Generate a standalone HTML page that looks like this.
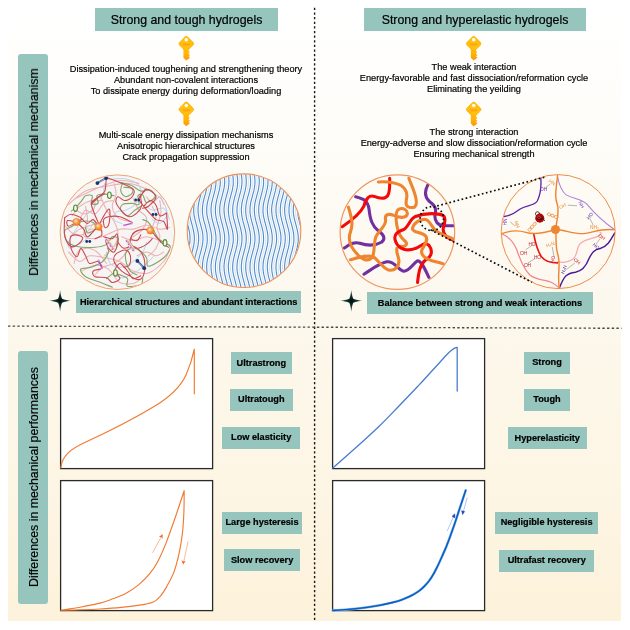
<!DOCTYPE html>
<html>
<head>
<meta charset="utf-8">
<style>
html,body{margin:0;padding:0;background:#fff;}
body{width:630px;height:630px;position:relative;overflow:hidden;font-family:"Liberation Sans",sans-serif;color:#000;-webkit-text-stroke:0.2px #000;}
#bg{position:absolute;left:8px;top:8px;width:613px;height:613px;background:linear-gradient(to bottom,#ffffff 0%,#fefcf7 24%,#fdf8ee 48%,#fdf6e5 76%,#fdf2db 100%);}
.box{position:absolute;background:#96c5bd;}
.hdr{font-size:12.35px;line-height:25px;text-align:center;white-space:nowrap;}
.vlab{position:absolute;background:#96c5bd;border-radius:3px;}
.vlab span{position:absolute;left:calc(50% + 0.5px);top:50%;transform:translate(-50%,-50%) rotate(-90deg);white-space:nowrap;font-size:12.35px;will-change:transform;}
.txt,.tag,.hdr{will-change:transform;}
.txt{position:absolute;font-size:9.2px;line-height:10.75px;text-align:center;white-space:nowrap;transform:translateX(-50%);}
.tag{position:absolute;background:#96c5bd;font-weight:bold;font-size:9.2px;text-align:center;white-space:nowrap;line-height:22px;height:22px;}
svg{position:absolute;left:0;top:0;}
</style>
</head>
<body>
<div id="bg"></div>

<!-- headers -->
<div class="box hdr" style="left:94.9px;top:8px;width:183px;height:23px;">Strong and tough hydrogels</div>
<div class="box hdr" style="left:363.5px;top:8px;width:222px;height:23.2px;">Strong and hyperelastic hydrogels</div>

<!-- vertical labels -->
<div class="vlab" style="left:18.3px;top:54px;width:30px;height:236.8px;"><span>Differences in mechanical mechanism</span></div>
<div class="vlab" style="left:18.1px;top:351px;width:30.4px;height:252.7px;"><span>Differences in mechanical performances</span></div>

<!-- text blocks -->
<div class="txt" style="left:186.3px;top:63.8px;">Dissipation-induced toughening and strengthening theory<br>Abundant non-covalent interactions<br>To dissipate energy during deformation/loading</div>
<div class="txt" style="left:186.2px;top:130px;">Multi-scale energy dissipation mechanisms<br>Anisotropic hierarchical structures<br>Crack propagation suppression</div>
<div class="txt" style="left:473.5px;top:61.6px;">The weak interaction<br>Energy-favorable and fast dissociation/reformation cycle<br>Eliminating the yeilding</div>
<div class="txt" style="left:473.8px;top:127px;">The strong interaction<br>Energy-adverse and slow dissociation/reformation cycle<br>Ensuring mechanical strength</div>

<!-- bottom labels of top half -->
<div class="tag" style="left:75.7px;top:291px;width:225.3px;height:22.2px;line-height:22.0px;">Hierarchical structures and abundant interactions</div>
<div class="tag" style="left:366.9px;top:291.6px;width:225.8px;height:22.3px;line-height:22.1px;">Balance between strong and weak interactions</div>

<!-- tags -->
<div class="tag" style="left:231.1px;top:351.6px;width:60.7px;height:22.2px;line-height:22.0px;">Ultrastrong</div>
<div class="tag" style="left:230.0px;top:388.6px;width:62.7px;height:22.2px;line-height:21.0px;">Ultratough</div>
<div class="tag" style="left:222.3px;top:426.7px;width:78.3px;height:22.2px;line-height:21.0px;">Low elasticity</div>
<div class="tag" style="left:222.2px;top:511.8px;width:80.0px;height:22.1px;line-height:21.9px;">Large hysteresis</div>
<div class="tag" style="left:224.0px;top:549.4px;width:76.2px;height:22.4px;line-height:22.2px;">Slow recovery</div>

<div class="tag" style="left:523.8px;top:351.8px;width:46.0px;height:22.0px;line-height:21.8px;">Strong</div>
<div class="tag" style="left:523.8px;top:388.5px;width:46.0px;height:22.2px;line-height:21.0px;">Tough</div>
<div class="tag" style="left:507.7px;top:426.6px;width:78.5px;height:22.4px;line-height:22.2px;">Hyperelasticity</div>
<div class="tag" style="left:495.3px;top:511.9px;width:103.2px;height:22.2px;line-height:21.0px;">Negligible hysteresis</div>
<div class="tag" style="left:499.3px;top:549.6px;width:95.4px;height:22.2px;line-height:21.0px;">Ultrafast recovery</div>

<svg id="main" width="630" height="630" viewBox="0 0 630 630">
  <!-- dividers -->
  <line x1="314.6" y1="7.8" x2="314.6" y2="621.5" stroke="#1a1a1a" stroke-width="1.4" stroke-dasharray="2.3 2.32"/>
  <line x1="8" y1="326.1" x2="621.6" y2="328.3" stroke="#4a4a4a" stroke-width="1.35" stroke-dasharray="2.4 2.28"/>

  <!-- chart frames -->
  <rect x="60.6" y="338.6" width="152" height="130" fill="#fff" stroke="#2a2a2a" stroke-width="1.3"/>
  <rect x="60.6" y="480.6" width="152" height="130" fill="#fff" stroke="#2a2a2a" stroke-width="1.3"/>
  <rect x="332.6" y="338.6" width="152" height="130" fill="#fff" stroke="#2a2a2a" stroke-width="1.3"/>
  <rect x="332.6" y="480.6" width="152" height="130" fill="#fff" stroke="#2a2a2a" stroke-width="1.3"/>


  <defs>
    <linearGradient id="kg" x1="0" y1="0" x2="0" y2="1">
      <stop offset="0" stop-color="#ffbe08"/><stop offset="0.5" stop-color="#ffc40e"/><stop offset="1" stop-color="#ffbc08"/>
    </linearGradient>
    <linearGradient id="kg2" x1="0" y1="0" x2="0" y2="1">
      <stop offset="0" stop-color="#ffc30a"/><stop offset="0.45" stop-color="#ffb605"/><stop offset="1" stop-color="#ff9410"/>
    </linearGradient>
    <radialGradient id="sg" cx="0" cy="0" r="10.9" gradientUnits="userSpaceOnUse"><stop offset="0" stop-color="#020a0a"/><stop offset="0.35" stop-color="#0c2e2c"/><stop offset="1" stop-color="#1f5a54"/></radialGradient>
    <g id="key">
      <path d="M-2.9,11 L2.4,11 L2.4,15.3 l1,0.4 l0,0.9 l-1,0.5 l0,1.0 l1,0.4 l0,0.9 l-1,0.5 l0,0.7 l1,0.4 l0,0.9 L-0.1,24.6 L-2.9,21.8 Z" fill="url(#kg2)"/>
      <rect x="-5.75" y="-5.75" width="11.5" height="11.5" rx="2.1" transform="translate(0,7.7) rotate(45)" fill="url(#kg)" stroke="#ffac10" stroke-width="0.7"/>
      <rect x="-3.5" y="7.4" width="7" height="2.2" fill="#ffa31a"/>
      <circle cx="0" cy="3.8" r="1.75" fill="#fffdf8"/>
    </g>
    <path id="star" d="M0,-10.9 C0.3,-8 0.8,-4.5 2.0,-2.0 C4.5,-0.8 8,-0.3 10.9,0 C8,0.3 4.5,0.8 2.0,2.0 C0.8,4.5 0.3,8 0,10.9 C-0.3,8 -0.8,4.5 -2.0,2.0 C-4.5,0.8 -8,0.3 -10.9,0 C-8,-0.3 -4.5,-0.8 -2.0,-2.0 C-0.8,-4.5 -0.3,-8 0,-10.9Z" fill="url(#sg)"/>
  </defs>
  <use href="#key" x="186.3" y="36"/>
  <use href="#key" x="186.3" y="101.7"/>
  <use href="#key" x="473.7" y="36"/>
  <use href="#key" x="473.7" y="101.8"/>
  <use href="#star" x="60.1" y="300.8"/>
  <use href="#star" x="351.3" y="300.8"/>

  <!-- chart curves -->
  <g fill="none" stroke-linecap="round" stroke-linejoin="round">
    <path d="M60.8,467.9 C62,456 70,449 86.4,441.7 C110,431 135,418 154.5,406.3 C168,398 180,388 186,374.9 C190,366 192.5,358 194.3,349.2 L194.3,393.8" stroke="#f07a30" stroke-width="1.15"/>
    <path d="M60.8,610.1 C64.0,609.6 73.5,608.4 80.0,607.2 C86.5,606.0 94.5,604.5 100.0,603.1 C105.5,601.7 108.5,600.4 112.8,598.8 C117.1,597.2 121.4,595.8 125.7,593.5 C130.0,591.2 134.6,588.1 138.5,584.9 C142.4,581.7 146.1,578.1 149.3,574.2 C152.5,570.3 155.0,566.8 157.8,561.4 C160.7,556.0 163.6,549.2 166.4,542.1 C169.2,535.0 171.9,527.1 174.9,518.5 C177.9,509.9 182.6,495.3 184.2,490.7 C184.1,494.3 184.2,505.0 183.9,512.1 C183.6,519.2 183.2,526.7 182.4,533.5 C181.6,540.3 180.6,546.4 179.2,552.8 C177.8,559.2 176.0,566.4 173.9,572.1 C171.8,577.8 168.7,583.0 166.4,587.1 C164.1,591.2 162.2,594.2 160.0,596.7 C157.8,599.2 156.4,600.8 153.5,602.1 C150.6,603.4 148.2,603.7 142.8,604.6 C137.5,605.5 128.5,606.7 121.4,607.4 C114.3,608.1 106.9,608.6 100.0,609.0 C93.1,609.4 86.5,609.6 80.0,609.8 C73.5,610.0 64.0,610.1 60.8,610.2" stroke="#f07a30" stroke-width="1.15"/>
    <path d="M332.8,468.1 C336.7,464.7 348.2,454.6 356.0,447.6 C363.8,440.6 372.2,432.9 379.4,426.0 C386.6,419.1 392.4,412.8 399.0,406.0 C405.6,399.2 413.0,391.4 418.7,385.4 C424.4,379.4 428.2,375.0 433.0,369.8 C437.8,364.6 444.3,357.3 447.5,354.0 C450.7,350.7 450.7,351.0 452.0,350.0 C453.3,349.0 454.4,348.3 455.3,347.9 C456.2,347.5 456.9,347.5 457.2,347.4 L457.2,391.1" stroke="#4a7bd0" stroke-width="1.3"/>
    <path d="M332.8,610.4 C335.7,610.2 344.5,609.7 350.0,609.2 C355.5,608.7 361.0,608.1 366.0,607.5 C371.0,606.9 375.7,606.1 380.0,605.3 C384.3,604.5 388.4,603.5 392.0,602.6 C395.6,601.7 398.4,601.0 401.4,599.9 C404.4,598.8 407.1,597.7 410.0,596.3 C412.9,594.9 416.2,592.9 418.5,591.3 C420.8,589.7 422.2,588.4 424.0,586.6 C425.8,584.8 427.7,582.8 429.3,580.6 C430.9,578.4 432.4,576.0 433.8,573.5 C435.2,571.0 436.4,568.5 437.8,565.7 C439.2,562.9 440.6,559.7 442.0,556.5 C443.4,553.3 444.9,550.0 446.4,546.4 C447.8,542.8 449.3,538.9 450.7,535.0 C452.1,531.1 453.4,527.4 455.0,522.8 C456.6,518.2 458.2,512.9 460.0,507.5 C461.8,502.1 464.8,493.2 465.7,490.3" stroke="#8fbcec" stroke-width="2.5"/>
    <path d="M332.8,610.4 C335.7,610.2 344.5,609.7 350.0,609.2 C355.5,608.7 361.0,608.1 366.0,607.5 C371.0,606.9 375.7,606.1 380.0,605.3 C384.3,604.5 388.4,603.5 392.0,602.6 C395.6,601.7 398.4,601.0 401.4,599.9 C404.4,598.8 407.1,597.7 410.0,596.3 C412.9,594.9 416.2,592.9 418.5,591.3 C420.8,589.7 422.2,588.4 424.0,586.6 C425.8,584.8 427.7,582.8 429.3,580.6 C430.9,578.4 432.4,576.0 433.8,573.5 C435.2,571.0 436.4,568.5 437.8,565.7 C439.2,562.9 440.6,559.7 442.0,556.5 C443.4,553.3 444.9,550.0 446.4,546.4 C447.8,542.8 449.3,538.9 450.7,535.0 C452.1,531.1 453.4,527.4 455.0,522.8 C456.6,518.2 458.2,512.9 460.0,507.5 C461.8,502.1 464.8,493.2 465.7,490.3" stroke="#0a5fc6" stroke-width="1.6"/>
    <!-- arrows -->
    <path d="M152.7,552.5 L161.6,536.2" stroke="#f6b48c" stroke-width="0.9"/>
    <path d="M188,541.8 L183.8,561.5" stroke="#f6b48c" stroke-width="0.9"/>
    <path d="M447.5,530.5 L453.8,516" stroke="#a9bdf0" stroke-width="0.9"/>
    <path d="M467.1,498 L463.3,512" stroke="#a9bdf0" stroke-width="0.9"/>
  </g>
  <path d="M162.7,534.1 L162.5,538.9 L161.2,536.9 L158.9,536.9Z" fill="#ec6a20"/>
  <path d="M183.2,564.6 L181.4,560.2 L183.5,561.4 L185.6,561.1Z" fill="#ec6a20"/>
  <path d="M454.8,513.8 L454.9,517.8 L452,516.4Z" fill="#2540b0" stroke="#2540b0" stroke-width="0.5"/>
  <path d="M462.6,514.5 L461.6,510.8 L464.6,511.5Z" fill="#2540b0" stroke="#2540b0" stroke-width="0.5"/>

  <!-- circles -->
  <circle cx="117.4" cy="232.2" r="57.3" fill="#f7f5f4"/>
  <circle cx="244" cy="230.7" r="56.8" fill="#fdfdfa"/>
  <circle cx="397.4" cy="232.1" r="57.3" fill="none" stroke="#ee9560" stroke-width="1.2"/>
  <circle cx="558.2" cy="231.6" r="57" fill="none" stroke="#ee8c48" stroke-width="1.0"/>

  <!-- circle 3 content -->
  <clipPath id="cl3"><circle cx="397.4" cy="232.1" r="56.8"/></clipPath>
  <g clip-path="url(#cl3)">
  <g transform="translate(335,170) scale(0.20635)" fill="none" stroke-width="15" stroke-linecap="round" stroke-linejoin="round">
    <path d="M100,130 C140,140 160,150 165,190 C170,240 180,270 210,295 C240,315 245,335 225,350 C190,370 150,365 120,355 C90,345 65,365 45,378" stroke="#7030a0"/>
    <path d="M35,275 C80,245 120,215 140,175 C150,140 165,120 190,128 C215,138 240,145 255,125 C268,105 265,70 265,40" stroke="#f20a0a"/>
    <path d="M450,72 C435,100 435,130 455,150 C475,165 495,180 485,215 C480,250 500,270 530,270 C550,270 565,270 578,270" stroke="#7030a0"/>
    <path d="M140,505 C180,480 210,455 250,445 C290,440 300,480 330,490 C360,495 380,450 400,440 C420,440 440,490 455,520" stroke="#7030a0"/>
    <path d="M210,58 C250,55 290,60 320,75 C345,90 355,120 345,150 C340,180 360,185 385,180 C400,170 395,140 385,110 C375,80 365,60 358,40" stroke="#ee8530"/>
    <path d="M75,435 C110,425 150,410 185,420 C210,435 225,470 260,485 C290,490 310,470 310,440 C308,415 295,400 300,380" stroke="#ee8530"/>
    <path d="M65,180 C80,230 90,260 75,300 C60,340 80,380 110,410 C130,435 160,445 180,425 C195,400 185,350 200,320 C215,290 250,270 245,240 C240,215 260,210 285,220 C310,232 345,235 350,215 C355,195 330,180 310,190 C290,200 295,240 300,270 C305,300 320,330 340,345 C355,360 340,375 320,370" stroke="#ee8530"/>
    <path d="M400,545 C405,500 410,460 440,435 C470,420 475,390 455,365 C430,345 420,370 390,380 C350,395 310,385 295,350 C280,315 300,300 330,290 C355,280 360,240 390,225 C430,210 480,210 510,215 C540,220 535,250 525,280 C520,310 545,330 570,340" stroke="#f20a0a"/>
    <path d="M575,335 C540,320 510,310 490,295 C470,280 460,245 440,240 C410,235 380,260 375,285 C380,305 420,300 440,320 C455,345 430,365 420,390 C415,415 440,430 470,440 C490,445 510,450 525,455" stroke="#ee8530"/>
  </g>
  </g>
  <!-- zoom callout -->
  <ellipse cx="431.8" cy="218.6" rx="11.7" ry="12" fill="none" stroke="#0a0a0a" stroke-width="1.7" stroke-dasharray="1.6 2.5"/>
  <line x1="437.2" y1="205.9" x2="544.6" y2="177.2" stroke="#0a0a0a" stroke-width="1.7" stroke-dasharray="1.7 2.5"/>
  <line x1="430.5" y1="229.8" x2="531.9" y2="282.3" stroke="#0a0a0a" stroke-width="1.7" stroke-dasharray="1.7 2.5"/>

  <!-- circle 4 content -->
  <clipPath id="cl4"><circle cx="558.2" cy="231.6" r="56.6"/></clipPath>
  <g clip-path="url(#cl4)">
  <g transform="translate(495,168) scale(0.20635)" fill="none" stroke-linecap="round" stroke-linejoin="round">
    <path d="M222,48 C225,90 220,130 205,160 C190,185 150,180 120,200 C95,220 70,232 45,235" stroke="#5c22aa" stroke-width="6.5"/>
    <path d="M303,40 C310,80 320,110 345,130 C380,150 420,150 445,175 C470,205 510,250 578,298" stroke="#a880d8" stroke-width="5"/>
    <path d="M580,315 C560,350 545,380 510,390 C480,395 470,410 455,440 C440,480 420,500 390,505 C350,510 335,520 312,582" stroke="#4a1a9a" stroke-width="7"/>
    <path d="M35,320 C70,335 90,360 105,395 C120,440 140,490 170,520 C200,545 250,540 275,555 C295,565 305,575 312,582" stroke="#f0868c" stroke-width="6"/>
    <path d="M303,455 C330,460 360,455 380,440 C400,420 395,390 410,370 C430,345 470,345 500,330 C520,322 515,315 510,312" stroke="#f6aab0" stroke-width="6"/>
    <path d="M188,322 C195,360 205,400 225,430 C245,455 275,460 303,460" stroke="#e81414" stroke-width="8"/>
    <path d="M303,35 C300,90 285,130 300,170 C315,210 300,250 293,298 C300,340 290,380 305,420 C320,470 300,520 312,582" stroke="#ee8530" stroke-width="7"/>
    <path d="M32,318 C80,300 110,300 150,312 C190,325 240,315 293,298 C340,300 380,320 430,318 C480,310 530,290 580,300" stroke="#ee8530" stroke-width="6.5"/>
    <circle cx="293" cy="298" r="22" fill="#ee8530" stroke="none"/>
    <!-- rings chain -->
    <g stroke="#ee9a50" stroke-width="4">
      <ellipse cx="168" cy="298" rx="9" ry="7" transform="rotate(-45 168 298)"/>
      <ellipse cx="180" cy="285" rx="9" ry="7" transform="rotate(-45 180 285)"/>
      <ellipse cx="192" cy="272" rx="9" ry="7" transform="rotate(-45 192 272)"/>
      <ellipse cx="262" cy="225" rx="9" ry="7" transform="rotate(20 262 225)"/>
      <ellipse cx="279" cy="231" rx="9" ry="7" transform="rotate(20 279 231)"/>
      <ellipse cx="296" cy="238" rx="9" ry="7" transform="rotate(20 296 238)"/>
    </g>
    <circle cx="206" cy="222" r="10" stroke="#222" stroke-width="4"/>
    <circle cx="217" cy="243" r="22" fill="#a80808" stroke="none"/>
    <circle cx="213" cy="239" r="10" fill="#d02020" stroke="none"/>
    <path d="M225,235 L240,255" stroke="#222" stroke-width="4"/>
    <!-- H-bond connectors -->
    <g stroke="#8a8a8a" stroke-width="3">
      <path d="M245,95 L265,80"/><path d="M355,180 L395,183"/><path d="M460,245 L475,275"/>
      <path d="M75,262 L95,280"/><path d="M150,395 L175,378"/><path d="M160,460 L195,438"/>
      <path d="M278,385 L285,425"/><path d="M348,490 L385,462"/><path d="M490,368 L508,345"/>
    </g>
  </g>
  <g font-family="Liberation Sans, sans-serif" font-size="4.8" text-anchor="middle" stroke-width="0.12">
    <text x="543.6" y="190.5" fill="#6a2cb0">OH</text>
    <text x="551" y="183.8" fill="#ee8530" transform="rotate(35 551 183.8)">HN</text>
    <text x="563.5" y="207.5" fill="#ee8530" transform="rotate(-30 563.5 207.5)">OH</text>
    <text x="580" y="205.5" fill="#7a40c0" transform="rotate(60 580 205.5)">NH</text>
    <text x="591" y="217" fill="#4a1a9a" transform="rotate(-50 591 217)">HO</text>
    <text x="594.5" y="228.5" fill="#ee8530">NH₂</text>
    <text x="507" y="222" fill="#6a2cb0" transform="rotate(-90 507 222)">HN</text>
    <text x="515.5" y="225" fill="#ee8530" transform="rotate(70 515.5 225)">NH</text>
    <text x="532" y="246" fill="#c02030">HO</text>
    <text x="523.5" y="254.5" fill="#c02030">OH</text>
    <text x="537.5" y="258.8" fill="#c02030">HO</text>
    <text x="527.5" y="266.8" fill="#c02030">OH</text>
    <text x="551" y="246" fill="#ee8530" transform="rotate(-20 551 246)">H₂N</text>
    <text x="554.5" y="259.5" fill="#c02030" transform="rotate(-80 554.5 259.5)">HO</text>
    <text x="576" y="262.5" fill="#c02030" transform="rotate(40 576 262.5)">OH</text>
    <text x="565.5" y="270" fill="#4a1a9a" transform="rotate(-70 565.5 270)">H₂N</text>
    <text x="601" y="238.5" fill="#e02020" transform="rotate(30 601 238.5)">OH</text>
    <text x="595" y="247.5" fill="#4a1a9a" transform="rotate(40 595 247.5)">HO</text>
    <text x="539.8" y="219.5" fill="#200" font-size="3.8" font-weight="bold">Cu</text>
  </g>
  </g>

  <!-- circle 2 content -->
  <clipPath id="cl2"><circle cx="244" cy="230.7" r="56.5"/></clipPath>
  <g clip-path="url(#cl2)" fill="none" stroke-linejoin="round">
    <path d="M186.8,172.9 L187.4,175.9 L187.8,178.9 L187.9,181.9 L187.7,184.9 L187.3,187.9 L186.6,190.9 L185.9,193.9 L185.0,196.9 L184.3,199.9 L183.6,202.9 L183.1,205.9 L182.9,208.9 L182.9,211.9 L183.2,214.9 L183.8,217.9 L184.5,220.9 L185.3,223.9 L186.1,226.9 L186.8,229.9 L187.4,232.9 L187.8,235.9 L187.9,238.9 L187.7,241.9 L187.3,244.9 L186.6,247.9 L185.9,250.9 L185.0,253.9 L184.3,256.9 L183.6,259.9 L183.1,262.9 L182.9,265.9 L182.9,268.9 L183.2,271.9 L183.8,274.9 L184.5,277.9 L185.3,280.9 L186.1,283.9 L186.8,286.9 M191.2,172.9 L191.7,175.9 L192.1,178.9 L192.2,181.9 L192.0,184.9 L191.6,187.9 L191.0,190.9 L190.2,193.9 L189.4,196.9 L188.6,199.9 L187.9,202.9 L187.4,205.9 L187.2,208.9 L187.2,211.9 L187.6,214.9 L188.1,217.9 L188.8,220.9 L189.6,223.9 L190.4,226.9 L191.2,229.9 L191.7,232.9 L192.1,235.9 L192.2,238.9 L192.0,241.9 L191.6,244.9 L191.0,247.9 L190.2,250.9 L189.4,253.9 L188.6,256.9 L187.9,259.9 L187.4,262.9 L187.2,265.9 L187.2,268.9 L187.6,271.9 L188.1,274.9 L188.8,277.9 L189.6,280.9 L190.4,283.9 L191.2,286.9 M195.5,172.9 L196.1,175.9 L196.4,178.9 L196.5,181.9 L196.4,184.9 L195.9,187.9 L195.3,190.9 L194.5,193.9 L193.7,196.9 L192.9,199.9 L192.3,202.9 L191.8,205.9 L191.5,208.9 L191.6,211.9 L191.9,214.9 L192.4,217.9 L193.1,220.9 L193.9,223.9 L194.7,226.9 L195.5,229.9 L196.1,232.9 L196.4,235.9 L196.5,238.9 L196.4,241.9 L195.9,244.9 L195.3,247.9 L194.5,250.9 L193.7,253.9 L192.9,256.9 L192.3,259.9 L191.8,262.9 L191.5,265.9 L191.6,268.9 L191.9,271.9 L192.4,274.9 L193.1,277.9 L193.9,280.9 L194.7,283.9 L195.5,286.9 M199.8,172.9 L200.4,175.9 L200.8,178.9 L200.9,181.9 L200.7,184.9 L200.3,187.9 L199.6,190.9 L198.9,193.9 L198.0,196.9 L197.3,199.9 L196.6,202.9 L196.1,205.9 L195.9,208.9 L195.9,211.9 L196.2,214.9 L196.7,217.9 L197.5,220.9 L198.3,223.9 L199.1,226.9 L199.8,229.9 L200.4,232.9 L200.8,235.9 L200.9,238.9 L200.7,241.9 L200.3,244.9 L199.6,247.9 L198.9,250.9 L198.0,253.9 L197.3,256.9 L196.6,259.9 L196.1,262.9 L195.9,265.9 L195.9,268.9 L196.2,271.9 L196.7,274.9 L197.5,277.9 L198.3,280.9 L199.1,283.9 L199.8,286.9 M204.1,172.9 L204.7,175.9 L205.1,178.9 L205.2,181.9 L205.0,184.9 L204.6,187.9 L204.0,190.9 L203.2,193.9 L202.4,196.9 L201.6,199.9 L200.9,202.9 L200.4,205.9 L200.2,208.9 L200.2,211.9 L200.5,214.9 L201.1,217.9 L201.8,220.9 L202.6,223.9 L203.4,226.9 L204.1,229.9 L204.7,232.9 L205.1,235.9 L205.2,238.9 L205.0,241.9 L204.6,244.9 L204.0,247.9 L203.2,250.9 L202.4,253.9 L201.6,256.9 L200.9,259.9 L200.4,262.9 L200.2,265.9 L200.2,268.9 L200.5,271.9 L201.1,274.9 L201.8,277.9 L202.6,280.9 L203.4,283.9 L204.1,286.9 M208.5,172.9 L209.1,175.9 L209.4,178.9 L209.5,181.9 L209.3,184.9 L208.9,187.9 L208.3,190.9 L207.5,193.9 L206.7,196.9 L205.9,199.9 L205.2,202.9 L204.8,205.9 L204.5,208.9 L204.6,211.9 L204.9,214.9 L205.4,217.9 L206.1,220.9 L206.9,223.9 L207.7,226.9 L208.5,229.9 L209.1,232.9 L209.4,235.9 L209.5,238.9 L209.3,241.9 L208.9,244.9 L208.3,247.9 L207.5,250.9 L206.7,253.9 L205.9,256.9 L205.2,259.9 L204.8,262.9 L204.5,265.9 L204.6,268.9 L204.9,271.9 L205.4,274.9 L206.1,277.9 L206.9,280.9 L207.7,283.9 L208.5,286.9 M212.8,172.9 L213.4,175.9 L213.7,178.9 L213.8,181.9 L213.7,184.9 L213.2,187.9 L212.6,190.9 L211.9,193.9 L211.0,196.9 L210.2,199.9 L209.6,202.9 L209.1,205.9 L208.9,208.9 L208.9,211.9 L209.2,214.9 L209.7,217.9 L210.4,220.9 L211.2,223.9 L212.1,226.9 L212.8,229.9 L213.4,232.9 L213.7,235.9 L213.8,238.9 L213.7,241.9 L213.2,244.9 L212.6,247.9 L211.9,250.9 L211.0,253.9 L210.2,256.9 L209.6,259.9 L209.1,262.9 L208.9,265.9 L208.9,268.9 L209.2,271.9 L209.7,274.9 L210.4,277.9 L211.2,280.9 L212.1,283.9 L212.8,286.9 M217.1,172.9 L217.7,175.9 L218.1,178.9 L218.2,181.9 L218.0,184.9 L217.6,187.9 L216.9,190.9 L216.2,193.9 L215.4,196.9 L214.6,199.9 L213.9,202.9 L213.4,205.9 L213.2,208.9 L213.2,211.9 L213.5,214.9 L214.1,217.9 L214.8,220.9 L215.6,223.9 L216.4,226.9 L217.1,229.9 L217.7,232.9 L218.1,235.9 L218.2,238.9 L218.0,241.9 L217.6,244.9 L216.9,247.9 L216.2,250.9 L215.4,253.9 L214.6,256.9 L213.9,259.9 L213.4,262.9 L213.2,265.9 L213.2,268.9 L213.5,271.9 L214.1,274.9 L214.8,277.9 L215.6,280.9 L216.4,283.9 L217.1,286.9 M221.5,172.9 L222.0,175.9 L222.4,178.9 L222.5,181.9 L222.3,184.9 L221.9,187.9 L221.3,190.9 L220.5,193.9 L219.7,196.9 L218.9,199.9 L218.2,202.9 L217.8,205.9 L217.5,208.9 L217.6,211.9 L217.9,214.9 L218.4,217.9 L219.1,220.9 L219.9,223.9 L220.7,226.9 L221.5,229.9 L222.0,232.9 L222.4,235.9 L222.5,238.9 L222.3,241.9 L221.9,244.9 L221.3,247.9 L220.5,250.9 L219.7,253.9 L218.9,256.9 L218.2,259.9 L217.8,262.9 L217.5,265.9 L217.6,268.9 L217.9,271.9 L218.4,274.9 L219.1,277.9 L219.9,280.9 L220.7,283.9 L221.5,286.9 M225.8,172.9 L226.4,175.9 L226.7,178.9 L226.8,181.9 L226.7,184.9 L226.2,187.9 L225.6,190.9 L224.8,193.9 L224.0,196.9 L223.2,199.9 L222.6,202.9 L222.1,205.9 L221.9,208.9 L221.9,211.9 L222.2,214.9 L222.7,217.9 L223.4,220.9 L224.2,223.9 L225.1,226.9 L225.8,229.9 L226.4,232.9 L226.7,235.9 L226.8,238.9 L226.7,241.9 L226.2,244.9 L225.6,247.9 L224.8,250.9 L224.0,253.9 L223.2,256.9 L222.6,259.9 L222.1,262.9 L221.9,265.9 L221.9,268.9 L222.2,271.9 L222.7,274.9 L223.4,277.9 L224.2,280.9 L225.1,283.9 L225.8,286.9 M230.1,172.9 L230.7,175.9 L231.1,178.9 L231.2,181.9 L231.0,184.9 L230.6,187.9 L229.9,190.9 L229.2,193.9 L228.3,196.9 L227.6,199.9 L226.9,202.9 L226.4,205.9 L226.2,208.9 L226.2,211.9 L226.5,214.9 L227.1,217.9 L227.8,220.9 L228.6,223.9 L229.4,226.9 L230.1,229.9 L230.7,232.9 L231.1,235.9 L231.2,238.9 L231.0,241.9 L230.6,244.9 L229.9,247.9 L229.2,250.9 L228.3,253.9 L227.6,256.9 L226.9,259.9 L226.4,262.9 L226.2,265.9 L226.2,268.9 L226.5,271.9 L227.1,274.9 L227.8,277.9 L228.6,280.9 L229.4,283.9 L230.1,286.9 M234.5,172.9 L235.0,175.9 L235.4,178.9 L235.5,181.9 L235.3,184.9 L234.9,187.9 L234.3,190.9 L233.5,193.9 L232.7,196.9 L231.9,199.9 L231.2,202.9 L230.7,205.9 L230.5,208.9 L230.5,211.9 L230.9,214.9 L231.4,217.9 L232.1,220.9 L232.9,223.9 L233.7,226.9 L234.5,229.9 L235.0,232.9 L235.4,235.9 L235.5,238.9 L235.3,241.9 L234.9,244.9 L234.3,247.9 L233.5,250.9 L232.7,253.9 L231.9,256.9 L231.2,259.9 L230.7,262.9 L230.5,265.9 L230.5,268.9 L230.9,271.9 L231.4,274.9 L232.1,277.9 L232.9,280.9 L233.7,283.9 L234.5,286.9 M238.8,172.9 L239.4,175.9 L239.7,178.9 L239.8,181.9 L239.7,184.9 L239.2,187.9 L238.6,190.9 L237.8,193.9 L237.0,196.9 L236.2,199.9 L235.6,202.9 L235.1,205.9 L234.8,208.9 L234.9,211.9 L235.2,214.9 L235.7,217.9 L236.4,220.9 L237.2,223.9 L238.0,226.9 L238.8,229.9 L239.4,232.9 L239.7,235.9 L239.8,238.9 L239.7,241.9 L239.2,244.9 L238.6,247.9 L237.8,250.9 L237.0,253.9 L236.2,256.9 L235.6,259.9 L235.1,262.9 L234.8,265.9 L234.9,268.9 L235.2,271.9 L235.7,274.9 L236.4,277.9 L237.2,280.9 L238.0,283.9 L238.8,286.9 M243.1,172.9 L243.7,175.9 L244.1,178.9 L244.2,181.9 L244.0,184.9 L243.6,187.9 L242.9,190.9 L242.2,193.9 L241.3,196.9 L240.6,199.9 L239.9,202.9 L239.4,205.9 L239.2,208.9 L239.2,211.9 L239.5,214.9 L240.0,217.9 L240.8,220.9 L241.6,223.9 L242.4,226.9 L243.1,229.9 L243.7,232.9 L244.1,235.9 L244.2,238.9 L244.0,241.9 L243.6,244.9 L242.9,247.9 L242.2,250.9 L241.3,253.9 L240.6,256.9 L239.9,259.9 L239.4,262.9 L239.2,265.9 L239.2,268.9 L239.5,271.9 L240.0,274.9 L240.8,277.9 L241.6,280.9 L242.4,283.9 L243.1,286.9 M247.4,172.9 L248.0,175.9 L248.4,178.9 L248.5,181.9 L248.3,184.9 L247.9,187.9 L247.3,190.9 L246.5,193.9 L245.7,196.9 L244.9,199.9 L244.2,202.9 L243.7,205.9 L243.5,208.9 L243.5,211.9 L243.8,214.9 L244.4,217.9 L245.1,220.9 L245.9,223.9 L246.7,226.9 L247.4,229.9 L248.0,232.9 L248.4,235.9 L248.5,238.9 L248.3,241.9 L247.9,244.9 L247.3,247.9 L246.5,250.9 L245.7,253.9 L244.9,256.9 L244.2,259.9 L243.7,262.9 L243.5,265.9 L243.5,268.9 L243.8,271.9 L244.4,274.9 L245.1,277.9 L245.9,280.9 L246.7,283.9 L247.4,286.9 M251.8,172.9 L252.4,175.9 L252.7,178.9 L252.8,181.9 L252.6,184.9 L252.2,187.9 L251.6,190.9 L250.8,193.9 L250.0,196.9 L249.2,199.9 L248.5,202.9 L248.1,205.9 L247.8,208.9 L247.9,211.9 L248.2,214.9 L248.7,217.9 L249.4,220.9 L250.2,223.9 L251.0,226.9 L251.8,229.9 L252.4,232.9 L252.7,235.9 L252.8,238.9 L252.6,241.9 L252.2,244.9 L251.6,247.9 L250.8,250.9 L250.0,253.9 L249.2,256.9 L248.5,259.9 L248.1,262.9 L247.8,265.9 L247.9,268.9 L248.2,271.9 L248.7,274.9 L249.4,277.9 L250.2,280.9 L251.0,283.9 L251.8,286.9 M256.1,172.9 L256.7,175.9 L257.0,178.9 L257.1,181.9 L257.0,184.9 L256.5,187.9 L255.9,190.9 L255.2,193.9 L254.3,196.9 L253.5,199.9 L252.9,202.9 L252.4,205.9 L252.2,208.9 L252.2,211.9 L252.5,214.9 L253.0,217.9 L253.7,220.9 L254.5,223.9 L255.4,226.9 L256.1,229.9 L256.7,232.9 L257.0,235.9 L257.1,238.9 L257.0,241.9 L256.5,244.9 L255.9,247.9 L255.2,250.9 L254.3,253.9 L253.5,256.9 L252.9,259.9 L252.4,262.9 L252.2,265.9 L252.2,268.9 L252.5,271.9 L253.0,274.9 L253.7,277.9 L254.5,280.9 L255.4,283.9 L256.1,286.9 M260.4,172.9 L261.0,175.9 L261.4,178.9 L261.5,181.9 L261.3,184.9 L260.9,187.9 L260.2,190.9 L259.5,193.9 L258.7,196.9 L257.9,199.9 L257.2,202.9 L256.7,205.9 L256.5,208.9 L256.5,211.9 L256.8,214.9 L257.4,217.9 L258.1,220.9 L258.9,223.9 L259.7,226.9 L260.4,229.9 L261.0,232.9 L261.4,235.9 L261.5,238.9 L261.3,241.9 L260.9,244.9 L260.2,247.9 L259.5,250.9 L258.7,253.9 L257.9,256.9 L257.2,259.9 L256.7,262.9 L256.5,265.9 L256.5,268.9 L256.8,271.9 L257.4,274.9 L258.1,277.9 L258.9,280.9 L259.7,283.9 L260.4,286.9 M264.8,172.9 L265.3,175.9 L265.7,178.9 L265.8,181.9 L265.6,184.9 L265.2,187.9 L264.6,190.9 L263.8,193.9 L263.0,196.9 L262.2,199.9 L261.5,202.9 L261.1,205.9 L260.8,208.9 L260.9,211.9 L261.2,214.9 L261.7,217.9 L262.4,220.9 L263.2,223.9 L264.0,226.9 L264.8,229.9 L265.3,232.9 L265.7,235.9 L265.8,238.9 L265.6,241.9 L265.2,244.9 L264.6,247.9 L263.8,250.9 L263.0,253.9 L262.2,256.9 L261.5,259.9 L261.1,262.9 L260.8,265.9 L260.9,268.9 L261.2,271.9 L261.7,274.9 L262.4,277.9 L263.2,280.9 L264.0,283.9 L264.8,286.9 M269.1,172.9 L269.7,175.9 L270.0,178.9 L270.1,181.9 L270.0,184.9 L269.5,187.9 L268.9,190.9 L268.1,193.9 L267.3,196.9 L266.5,199.9 L265.9,202.9 L265.4,205.9 L265.2,208.9 L265.2,211.9 L265.5,214.9 L266.0,217.9 L266.7,220.9 L267.5,223.9 L268.4,226.9 L269.1,229.9 L269.7,232.9 L270.0,235.9 L270.1,238.9 L270.0,241.9 L269.5,244.9 L268.9,247.9 L268.1,250.9 L267.3,253.9 L266.5,256.9 L265.9,259.9 L265.4,262.9 L265.2,265.9 L265.2,268.9 L265.5,271.9 L266.0,274.9 L266.7,277.9 L267.5,280.9 L268.4,283.9 L269.1,286.9 M273.4,172.9 L274.0,175.9 L274.4,178.9 L274.5,181.9 L274.3,184.9 L273.9,187.9 L273.2,190.9 L272.5,193.9 L271.6,196.9 L270.9,199.9 L270.2,202.9 L269.7,205.9 L269.5,208.9 L269.5,211.9 L269.8,214.9 L270.4,217.9 L271.1,220.9 L271.9,223.9 L272.7,226.9 L273.4,229.9 L274.0,232.9 L274.4,235.9 L274.5,238.9 L274.3,241.9 L273.9,244.9 L273.2,247.9 L272.5,250.9 L271.6,253.9 L270.9,256.9 L270.2,259.9 L269.7,262.9 L269.5,265.9 L269.5,268.9 L269.8,271.9 L270.4,274.9 L271.1,277.9 L271.9,280.9 L272.7,283.9 L273.4,286.9 M277.8,172.9 L278.3,175.9 L278.7,178.9 L278.8,181.9 L278.6,184.9 L278.2,187.9 L277.6,190.9 L276.8,193.9 L276.0,196.9 L275.2,199.9 L274.5,202.9 L274.0,205.9 L273.8,208.9 L273.8,211.9 L274.2,214.9 L274.7,217.9 L275.4,220.9 L276.2,223.9 L277.0,226.9 L277.8,229.9 L278.3,232.9 L278.7,235.9 L278.8,238.9 L278.6,241.9 L278.2,244.9 L277.6,247.9 L276.8,250.9 L276.0,253.9 L275.2,256.9 L274.5,259.9 L274.0,262.9 L273.8,265.9 L273.8,268.9 L274.2,271.9 L274.7,274.9 L275.4,277.9 L276.2,280.9 L277.0,283.9 L277.8,286.9 M282.1,172.9 L282.7,175.9 L283.0,178.9 L283.1,181.9 L283.0,184.9 L282.5,187.9 L281.9,190.9 L281.1,193.9 L280.3,196.9 L279.5,199.9 L278.9,202.9 L278.4,205.9 L278.1,208.9 L278.2,211.9 L278.5,214.9 L279.0,217.9 L279.7,220.9 L280.5,223.9 L281.3,226.9 L282.1,229.9 L282.7,232.9 L283.0,235.9 L283.1,238.9 L283.0,241.9 L282.5,244.9 L281.9,247.9 L281.1,250.9 L280.3,253.9 L279.5,256.9 L278.9,259.9 L278.4,262.9 L278.1,265.9 L278.2,268.9 L278.5,271.9 L279.0,274.9 L279.7,277.9 L280.5,280.9 L281.3,283.9 L282.1,286.9 M286.4,172.9 L287.0,175.9 L287.4,178.9 L287.5,181.9 L287.3,184.9 L286.9,187.9 L286.2,190.9 L285.5,193.9 L284.6,196.9 L283.9,199.9 L283.2,202.9 L282.7,205.9 L282.5,208.9 L282.5,211.9 L282.8,214.9 L283.3,217.9 L284.1,220.9 L284.9,223.9 L285.7,226.9 L286.4,229.9 L287.0,232.9 L287.4,235.9 L287.5,238.9 L287.3,241.9 L286.9,244.9 L286.2,247.9 L285.5,250.9 L284.6,253.9 L283.9,256.9 L283.2,259.9 L282.7,262.9 L282.5,265.9 L282.5,268.9 L282.8,271.9 L283.3,274.9 L284.1,277.9 L284.9,280.9 L285.7,283.9 L286.4,286.9 M290.7,172.9 L291.3,175.9 L291.7,178.9 L291.8,181.9 L291.6,184.9 L291.2,187.9 L290.6,190.9 L289.8,193.9 L289.0,196.9 L288.2,199.9 L287.5,202.9 L287.0,205.9 L286.8,208.9 L286.8,211.9 L287.1,214.9 L287.7,217.9 L288.4,220.9 L289.2,223.9 L290.0,226.9 L290.7,229.9 L291.3,232.9 L291.7,235.9 L291.8,238.9 L291.6,241.9 L291.2,244.9 L290.6,247.9 L289.8,250.9 L289.0,253.9 L288.2,256.9 L287.5,259.9 L287.0,262.9 L286.8,265.9 L286.8,268.9 L287.1,271.9 L287.7,274.9 L288.4,277.9 L289.2,280.9 L290.0,283.9 L290.7,286.9 M295.1,172.9 L295.7,175.9 L296.0,178.9 L296.1,181.9 L295.9,184.9 L295.5,187.9 L294.9,190.9 L294.1,193.9 L293.3,196.9 L292.5,199.9 L291.8,202.9 L291.4,205.9 L291.1,208.9 L291.2,211.9 L291.5,214.9 L292.0,217.9 L292.7,220.9 L293.5,223.9 L294.3,226.9 L295.1,229.9 L295.7,232.9 L296.0,235.9 L296.1,238.9 L295.9,241.9 L295.5,244.9 L294.9,247.9 L294.1,250.9 L293.3,253.9 L292.5,256.9 L291.8,259.9 L291.4,262.9 L291.1,265.9 L291.2,268.9 L291.5,271.9 L292.0,274.9 L292.7,277.9 L293.5,280.9 L294.3,283.9 L295.1,286.9 M299.4,172.9 L300.0,175.9 L300.3,178.9 L300.4,181.9 L300.3,184.9 L299.8,187.9 L299.2,190.9 L298.5,193.9 L297.6,196.9 L296.8,199.9 L296.2,202.9 L295.7,205.9 L295.5,208.9 L295.5,211.9 L295.8,214.9 L296.3,217.9 L297.0,220.9 L297.8,223.9 L298.7,226.9 L299.4,229.9 L300.0,232.9 L300.3,235.9 L300.4,238.9 L300.3,241.9 L299.8,244.9 L299.2,247.9 L298.5,250.9 L297.6,253.9 L296.8,256.9 L296.2,259.9 L295.7,262.9 L295.5,265.9 L295.5,268.9 L295.8,271.9 L296.3,274.9 L297.0,277.9 L297.8,280.9 L298.7,283.9 L299.4,286.9 M303.7,172.9 L304.3,175.9 L304.7,178.9 L304.8,181.9 L304.6,184.9 L304.2,187.9 L303.5,190.9 L302.8,193.9 L302.0,196.9 L301.2,199.9 L300.5,202.9 L300.0,205.9 L299.8,208.9 L299.8,211.9 L300.1,214.9 L300.7,217.9 L301.4,220.9 L302.2,223.9 L303.0,226.9 L303.7,229.9 L304.3,232.9 L304.7,235.9 L304.8,238.9 L304.6,241.9 L304.2,244.9 L303.5,247.9 L302.8,250.9 L302.0,253.9 L301.2,256.9 L300.5,259.9 L300.0,262.9 L299.8,265.9 L299.8,268.9 L300.1,271.9 L300.7,274.9 L301.4,277.9 L302.2,280.9 L303.0,283.9 L303.7,286.9 M308.1,172.9 L308.6,175.9 L309.0,178.9 L309.1,181.9 L308.9,184.9 L308.5,187.9 L307.9,190.9 L307.1,193.9 L306.3,196.9 L305.5,199.9 L304.8,202.9 L304.4,205.9 L304.1,208.9 L304.2,211.9 L304.5,214.9 L305.0,217.9 L305.7,220.9 L306.5,223.9 L307.3,226.9 L308.1,229.9 L308.6,232.9 L309.0,235.9 L309.1,238.9 L308.9,241.9 L308.5,244.9 L307.9,247.9 L307.1,250.9 L306.3,253.9 L305.5,256.9 L304.8,259.9 L304.4,262.9 L304.1,265.9 L304.2,268.9 L304.5,271.9 L305.0,274.9 L305.7,277.9 L306.5,280.9 L307.3,283.9 L308.1,286.9" stroke="#c4daf0" stroke-width="0.7"/>
    <path d="M184.7,172.9 L185.2,175.9 L185.6,178.9 L185.7,181.9 L185.5,184.9 L185.1,187.9 L184.5,190.9 L183.7,193.9 L182.9,196.9 L182.1,199.9 L181.4,202.9 L181.0,205.9 L180.7,208.9 L180.8,211.9 L181.1,214.9 L181.6,217.9 L182.3,220.9 L183.1,223.9 L183.9,226.9 L184.7,229.9 L185.2,232.9 L185.6,235.9 L185.7,238.9 L185.5,241.9 L185.1,244.9 L184.5,247.9 L183.7,250.9 L182.9,253.9 L182.1,256.9 L181.4,259.9 L181.0,262.9 L180.7,265.9 L180.8,268.9 L181.1,271.9 L181.6,274.9 L182.3,277.9 L183.1,280.9 L183.9,283.9 L184.7,286.9 M189.0,172.9 L189.6,175.9 L189.9,178.9 L190.0,181.9 L189.9,184.9 L189.4,187.9 L188.8,190.9 L188.0,193.9 L187.2,196.9 L186.4,199.9 L185.8,202.9 L185.3,205.9 L185.0,208.9 L185.1,211.9 L185.4,214.9 L185.9,217.9 L186.6,220.9 L187.4,223.9 L188.2,226.9 L189.0,229.9 L189.6,232.9 L189.9,235.9 L190.0,238.9 L189.9,241.9 L189.4,244.9 L188.8,247.9 L188.0,250.9 L187.2,253.9 L186.4,256.9 L185.8,259.9 L185.3,262.9 L185.0,265.9 L185.1,268.9 L185.4,271.9 L185.9,274.9 L186.6,277.9 L187.4,280.9 L188.2,283.9 L189.0,286.9 M193.3,172.9 L193.9,175.9 L194.3,178.9 L194.4,181.9 L194.2,184.9 L193.8,187.9 L193.1,190.9 L192.4,193.9 L191.5,196.9 L190.8,199.9 L190.1,202.9 L189.6,205.9 L189.4,208.9 L189.4,211.9 L189.7,214.9 L190.2,217.9 L191.0,220.9 L191.8,223.9 L192.6,226.9 L193.3,229.9 L193.9,232.9 L194.3,235.9 L194.4,238.9 L194.2,241.9 L193.8,244.9 L193.1,247.9 L192.4,250.9 L191.5,253.9 L190.8,256.9 L190.1,259.9 L189.6,262.9 L189.4,265.9 L189.4,268.9 L189.7,271.9 L190.2,274.9 L191.0,277.9 L191.8,280.9 L192.6,283.9 L193.3,286.9 M197.6,172.9 L198.2,175.9 L198.6,178.9 L198.7,181.9 L198.5,184.9 L198.1,187.9 L197.5,190.9 L196.7,193.9 L195.9,196.9 L195.1,199.9 L194.4,202.9 L193.9,205.9 L193.7,208.9 L193.7,211.9 L194.0,214.9 L194.6,217.9 L195.3,220.9 L196.1,223.9 L196.9,226.9 L197.6,229.9 L198.2,232.9 L198.6,235.9 L198.7,238.9 L198.5,241.9 L198.1,244.9 L197.5,247.9 L196.7,250.9 L195.9,253.9 L195.1,256.9 L194.4,259.9 L193.9,262.9 L193.7,265.9 L193.7,268.9 L194.0,271.9 L194.6,274.9 L195.3,277.9 L196.1,280.9 L196.9,283.9 L197.6,286.9 M202.0,172.9 L202.6,175.9 L202.9,178.9 L203.0,181.9 L202.8,184.9 L202.4,187.9 L201.8,190.9 L201.0,193.9 L200.2,196.9 L199.4,199.9 L198.7,202.9 L198.3,205.9 L198.0,208.9 L198.1,211.9 L198.4,214.9 L198.9,217.9 L199.6,220.9 L200.4,223.9 L201.2,226.9 L202.0,229.9 L202.6,232.9 L202.9,235.9 L203.0,238.9 L202.8,241.9 L202.4,244.9 L201.8,247.9 L201.0,250.9 L200.2,253.9 L199.4,256.9 L198.7,259.9 L198.3,262.9 L198.0,265.9 L198.1,268.9 L198.4,271.9 L198.9,274.9 L199.6,277.9 L200.4,280.9 L201.2,283.9 L202.0,286.9 M206.3,172.9 L206.9,175.9 L207.2,178.9 L207.3,181.9 L207.2,184.9 L206.8,187.9 L206.1,190.9 L205.4,193.9 L204.5,196.9 L203.7,199.9 L203.1,202.9 L202.6,205.9 L202.4,208.9 L202.4,211.9 L202.7,214.9 L203.2,217.9 L203.9,220.9 L204.8,223.9 L205.6,226.9 L206.3,229.9 L206.9,232.9 L207.2,235.9 L207.3,238.9 L207.2,241.9 L206.8,244.9 L206.1,247.9 L205.4,250.9 L204.5,253.9 L203.7,256.9 L203.1,259.9 L202.6,262.9 L202.4,265.9 L202.4,268.9 L202.7,271.9 L203.2,274.9 L203.9,277.9 L204.8,280.9 L205.6,283.9 L206.3,286.9 M210.6,172.9 L211.2,175.9 L211.6,178.9 L211.7,181.9 L211.5,184.9 L211.1,187.9 L210.5,190.9 L209.7,193.9 L208.9,196.9 L208.1,199.9 L207.4,202.9 L206.9,205.9 L206.7,208.9 L206.7,211.9 L207.0,214.9 L207.6,217.9 L208.3,220.9 L209.1,223.9 L209.9,226.9 L210.6,229.9 L211.2,232.9 L211.6,235.9 L211.7,238.9 L211.5,241.9 L211.1,244.9 L210.5,247.9 L209.7,250.9 L208.9,253.9 L208.1,256.9 L207.4,259.9 L206.9,262.9 L206.7,265.9 L206.7,268.9 L207.0,271.9 L207.6,274.9 L208.3,277.9 L209.1,280.9 L209.9,283.9 L210.6,286.9 M215.0,172.9 L215.5,175.9 L215.9,178.9 L216.0,181.9 L215.8,184.9 L215.4,187.9 L214.8,190.9 L214.0,193.9 L213.2,196.9 L212.4,199.9 L211.7,202.9 L211.3,205.9 L211.0,208.9 L211.1,211.9 L211.4,214.9 L211.9,217.9 L212.6,220.9 L213.4,223.9 L214.2,226.9 L215.0,229.9 L215.5,232.9 L215.9,235.9 L216.0,238.9 L215.8,241.9 L215.4,244.9 L214.8,247.9 L214.0,250.9 L213.2,253.9 L212.4,256.9 L211.7,259.9 L211.3,262.9 L211.0,265.9 L211.1,268.9 L211.4,271.9 L211.9,274.9 L212.6,277.9 L213.4,280.9 L214.2,283.9 L215.0,286.9 M219.3,172.9 L219.9,175.9 L220.2,178.9 L220.3,181.9 L220.2,184.9 L219.7,187.9 L219.1,190.9 L218.3,193.9 L217.5,196.9 L216.7,199.9 L216.1,202.9 L215.6,205.9 L215.4,208.9 L215.4,211.9 L215.7,214.9 L216.2,217.9 L216.9,220.9 L217.7,223.9 L218.6,226.9 L219.3,229.9 L219.9,232.9 L220.2,235.9 L220.3,238.9 L220.2,241.9 L219.7,244.9 L219.1,247.9 L218.3,250.9 L217.5,253.9 L216.7,256.9 L216.1,259.9 L215.6,262.9 L215.4,265.9 L215.4,268.9 L215.7,271.9 L216.2,274.9 L216.9,277.9 L217.7,280.9 L218.6,283.9 L219.3,286.9 M223.6,172.9 L224.2,175.9 L224.6,178.9 L224.7,181.9 L224.5,184.9 L224.1,187.9 L223.4,190.9 L222.7,193.9 L221.9,196.9 L221.1,199.9 L220.4,202.9 L219.9,205.9 L219.7,208.9 L219.7,211.9 L220.0,214.9 L220.6,217.9 L221.3,220.9 L222.1,223.9 L222.9,226.9 L223.6,229.9 L224.2,232.9 L224.6,235.9 L224.7,238.9 L224.5,241.9 L224.1,244.9 L223.4,247.9 L222.7,250.9 L221.9,253.9 L221.1,256.9 L220.4,259.9 L219.9,262.9 L219.7,265.9 L219.7,268.9 L220.0,271.9 L220.6,274.9 L221.3,277.9 L222.1,280.9 L222.9,283.9 L223.6,286.9 M228.0,172.9 L228.5,175.9 L228.9,178.9 L229.0,181.9 L228.8,184.9 L228.4,187.9 L227.8,190.9 L227.0,193.9 L226.2,196.9 L225.4,199.9 L224.7,202.9 L224.3,205.9 L224.0,208.9 L224.1,211.9 L224.4,214.9 L224.9,217.9 L225.6,220.9 L226.4,223.9 L227.2,226.9 L228.0,229.9 L228.5,232.9 L228.9,235.9 L229.0,238.9 L228.8,241.9 L228.4,244.9 L227.8,247.9 L227.0,250.9 L226.2,253.9 L225.4,256.9 L224.7,259.9 L224.3,262.9 L224.0,265.9 L224.1,268.9 L224.4,271.9 L224.9,274.9 L225.6,277.9 L226.4,280.9 L227.2,283.9 L228.0,286.9 M232.3,172.9 L232.9,175.9 L233.2,178.9 L233.3,181.9 L233.2,184.9 L232.7,187.9 L232.1,190.9 L231.3,193.9 L230.5,196.9 L229.7,199.9 L229.1,202.9 L228.6,205.9 L228.3,208.9 L228.4,211.9 L228.7,214.9 L229.2,217.9 L229.9,220.9 L230.7,223.9 L231.5,226.9 L232.3,229.9 L232.9,232.9 L233.2,235.9 L233.3,238.9 L233.2,241.9 L232.7,244.9 L232.1,247.9 L231.3,250.9 L230.5,253.9 L229.7,256.9 L229.1,259.9 L228.6,262.9 L228.3,265.9 L228.4,268.9 L228.7,271.9 L229.2,274.9 L229.9,277.9 L230.7,280.9 L231.5,283.9 L232.3,286.9 M236.6,172.9 L237.2,175.9 L237.6,178.9 L237.7,181.9 L237.5,184.9 L237.1,187.9 L236.4,190.9 L235.7,193.9 L234.8,196.9 L234.1,199.9 L233.4,202.9 L232.9,205.9 L232.7,208.9 L232.7,211.9 L233.0,214.9 L233.5,217.9 L234.3,220.9 L235.1,223.9 L235.9,226.9 L236.6,229.9 L237.2,232.9 L237.6,235.9 L237.7,238.9 L237.5,241.9 L237.1,244.9 L236.4,247.9 L235.7,250.9 L234.8,253.9 L234.1,256.9 L233.4,259.9 L232.9,262.9 L232.7,265.9 L232.7,268.9 L233.0,271.9 L233.5,274.9 L234.3,277.9 L235.1,280.9 L235.9,283.9 L236.6,286.9 M240.9,172.9 L241.5,175.9 L241.9,178.9 L242.0,181.9 L241.8,184.9 L241.4,187.9 L240.8,190.9 L240.0,193.9 L239.2,196.9 L238.4,199.9 L237.7,202.9 L237.2,205.9 L237.0,208.9 L237.0,211.9 L237.3,214.9 L237.9,217.9 L238.6,220.9 L239.4,223.9 L240.2,226.9 L240.9,229.9 L241.5,232.9 L241.9,235.9 L242.0,238.9 L241.8,241.9 L241.4,244.9 L240.8,247.9 L240.0,250.9 L239.2,253.9 L238.4,256.9 L237.7,259.9 L237.2,262.9 L237.0,265.9 L237.0,268.9 L237.3,271.9 L237.9,274.9 L238.6,277.9 L239.4,280.9 L240.2,283.9 L240.9,286.9 M245.3,172.9 L245.9,175.9 L246.2,178.9 L246.3,181.9 L246.1,184.9 L245.7,187.9 L245.1,190.9 L244.3,193.9 L243.5,196.9 L242.7,199.9 L242.0,202.9 L241.6,205.9 L241.3,208.9 L241.4,211.9 L241.7,214.9 L242.2,217.9 L242.9,220.9 L243.7,223.9 L244.5,226.9 L245.3,229.9 L245.9,232.9 L246.2,235.9 L246.3,238.9 L246.1,241.9 L245.7,244.9 L245.1,247.9 L244.3,250.9 L243.5,253.9 L242.7,256.9 L242.0,259.9 L241.6,262.9 L241.3,265.9 L241.4,268.9 L241.7,271.9 L242.2,274.9 L242.9,277.9 L243.7,280.9 L244.5,283.9 L245.3,286.9 M249.6,172.9 L250.2,175.9 L250.5,178.9 L250.6,181.9 L250.5,184.9 L250.1,187.9 L249.4,190.9 L248.7,193.9 L247.8,196.9 L247.0,199.9 L246.4,202.9 L245.9,205.9 L245.7,208.9 L245.7,211.9 L246.0,214.9 L246.5,217.9 L247.2,220.9 L248.1,223.9 L248.9,226.9 L249.6,229.9 L250.2,232.9 L250.5,235.9 L250.6,238.9 L250.5,241.9 L250.1,244.9 L249.4,247.9 L248.7,250.9 L247.8,253.9 L247.0,256.9 L246.4,259.9 L245.9,262.9 L245.7,265.9 L245.7,268.9 L246.0,271.9 L246.5,274.9 L247.2,277.9 L248.1,280.9 L248.9,283.9 L249.6,286.9 M253.9,172.9 L254.5,175.9 L254.9,178.9 L255.0,181.9 L254.8,184.9 L254.4,187.9 L253.8,190.9 L253.0,193.9 L252.2,196.9 L251.4,199.9 L250.7,202.9 L250.2,205.9 L250.0,208.9 L250.0,211.9 L250.3,214.9 L250.9,217.9 L251.6,220.9 L252.4,223.9 L253.2,226.9 L253.9,229.9 L254.5,232.9 L254.9,235.9 L255.0,238.9 L254.8,241.9 L254.4,244.9 L253.8,247.9 L253.0,250.9 L252.2,253.9 L251.4,256.9 L250.7,259.9 L250.2,262.9 L250.0,265.9 L250.0,268.9 L250.3,271.9 L250.9,274.9 L251.6,277.9 L252.4,280.9 L253.2,283.9 L253.9,286.9 M258.3,172.9 L258.8,175.9 L259.2,178.9 L259.3,181.9 L259.1,184.9 L258.7,187.9 L258.1,190.9 L257.3,193.9 L256.5,196.9 L255.7,199.9 L255.0,202.9 L254.6,205.9 L254.3,208.9 L254.4,211.9 L254.7,214.9 L255.2,217.9 L255.9,220.9 L256.7,223.9 L257.5,226.9 L258.3,229.9 L258.8,232.9 L259.2,235.9 L259.3,238.9 L259.1,241.9 L258.7,244.9 L258.1,247.9 L257.3,250.9 L256.5,253.9 L255.7,256.9 L255.0,259.9 L254.6,262.9 L254.3,265.9 L254.4,268.9 L254.7,271.9 L255.2,274.9 L255.9,277.9 L256.7,280.9 L257.5,283.9 L258.3,286.9 M262.6,172.9 L263.2,175.9 L263.5,178.9 L263.6,181.9 L263.5,184.9 L263.0,187.9 L262.4,190.9 L261.6,193.9 L260.8,196.9 L260.0,199.9 L259.4,202.9 L258.9,205.9 L258.7,208.9 L258.7,211.9 L259.0,214.9 L259.5,217.9 L260.2,220.9 L261.0,223.9 L261.9,226.9 L262.6,229.9 L263.2,232.9 L263.5,235.9 L263.6,238.9 L263.5,241.9 L263.0,244.9 L262.4,247.9 L261.6,250.9 L260.8,253.9 L260.0,256.9 L259.4,259.9 L258.9,262.9 L258.7,265.9 L258.7,268.9 L259.0,271.9 L259.5,274.9 L260.2,277.9 L261.0,280.9 L261.9,283.9 L262.6,286.9 M266.9,172.9 L267.5,175.9 L267.9,178.9 L268.0,181.9 L267.8,184.9 L267.4,187.9 L266.7,190.9 L266.0,193.9 L265.2,196.9 L264.4,199.9 L263.7,202.9 L263.2,205.9 L263.0,208.9 L263.0,211.9 L263.3,214.9 L263.9,217.9 L264.6,220.9 L265.4,223.9 L266.2,226.9 L266.9,229.9 L267.5,232.9 L267.9,235.9 L268.0,238.9 L267.8,241.9 L267.4,244.9 L266.7,247.9 L266.0,250.9 L265.2,253.9 L264.4,256.9 L263.7,259.9 L263.2,262.9 L263.0,265.9 L263.0,268.9 L263.3,271.9 L263.9,274.9 L264.6,277.9 L265.4,280.9 L266.2,283.9 L266.9,286.9 M271.3,172.9 L271.8,175.9 L272.2,178.9 L272.3,181.9 L272.1,184.9 L271.7,187.9 L271.1,190.9 L270.3,193.9 L269.5,196.9 L268.7,199.9 L268.0,202.9 L267.6,205.9 L267.3,208.9 L267.4,211.9 L267.7,214.9 L268.2,217.9 L268.9,220.9 L269.7,223.9 L270.5,226.9 L271.3,229.9 L271.8,232.9 L272.2,235.9 L272.3,238.9 L272.1,241.9 L271.7,244.9 L271.1,247.9 L270.3,250.9 L269.5,253.9 L268.7,256.9 L268.0,259.9 L267.6,262.9 L267.3,265.9 L267.4,268.9 L267.7,271.9 L268.2,274.9 L268.9,277.9 L269.7,280.9 L270.5,283.9 L271.3,286.9 M275.6,172.9 L276.2,175.9 L276.5,178.9 L276.6,181.9 L276.5,184.9 L276.0,187.9 L275.4,190.9 L274.6,193.9 L273.8,196.9 L273.0,199.9 L272.4,202.9 L271.9,205.9 L271.6,208.9 L271.7,211.9 L272.0,214.9 L272.5,217.9 L273.2,220.9 L274.0,223.9 L274.8,226.9 L275.6,229.9 L276.2,232.9 L276.5,235.9 L276.6,238.9 L276.5,241.9 L276.0,244.9 L275.4,247.9 L274.6,250.9 L273.8,253.9 L273.0,256.9 L272.4,259.9 L271.9,262.9 L271.6,265.9 L271.7,268.9 L272.0,271.9 L272.5,274.9 L273.2,277.9 L274.0,280.9 L274.8,283.9 L275.6,286.9 M279.9,172.9 L280.5,175.9 L280.9,178.9 L281.0,181.9 L280.8,184.9 L280.4,187.9 L279.7,190.9 L279.0,193.9 L278.1,196.9 L277.4,199.9 L276.7,202.9 L276.2,205.9 L276.0,208.9 L276.0,211.9 L276.3,214.9 L276.8,217.9 L277.6,220.9 L278.4,223.9 L279.2,226.9 L279.9,229.9 L280.5,232.9 L280.9,235.9 L281.0,238.9 L280.8,241.9 L280.4,244.9 L279.7,247.9 L279.0,250.9 L278.1,253.9 L277.4,256.9 L276.7,259.9 L276.2,262.9 L276.0,265.9 L276.0,268.9 L276.3,271.9 L276.8,274.9 L277.6,277.9 L278.4,280.9 L279.2,283.9 L279.9,286.9 M284.2,172.9 L284.8,175.9 L285.2,178.9 L285.3,181.9 L285.1,184.9 L284.7,187.9 L284.1,190.9 L283.3,193.9 L282.5,196.9 L281.7,199.9 L281.0,202.9 L280.5,205.9 L280.3,208.9 L280.3,211.9 L280.6,214.9 L281.2,217.9 L281.9,220.9 L282.7,223.9 L283.5,226.9 L284.2,229.9 L284.8,232.9 L285.2,235.9 L285.3,238.9 L285.1,241.9 L284.7,244.9 L284.1,247.9 L283.3,250.9 L282.5,253.9 L281.7,256.9 L281.0,259.9 L280.5,262.9 L280.3,265.9 L280.3,268.9 L280.6,271.9 L281.2,274.9 L281.9,277.9 L282.7,280.9 L283.5,283.9 L284.2,286.9 M288.6,172.9 L289.2,175.9 L289.5,178.9 L289.6,181.9 L289.4,184.9 L289.0,187.9 L288.4,190.9 L287.6,193.9 L286.8,196.9 L286.0,199.9 L285.3,202.9 L284.9,205.9 L284.6,208.9 L284.7,211.9 L285.0,214.9 L285.5,217.9 L286.2,220.9 L287.0,223.9 L287.8,226.9 L288.6,229.9 L289.2,232.9 L289.5,235.9 L289.6,238.9 L289.4,241.9 L289.0,244.9 L288.4,247.9 L287.6,250.9 L286.8,253.9 L286.0,256.9 L285.3,259.9 L284.9,262.9 L284.6,265.9 L284.7,268.9 L285.0,271.9 L285.5,274.9 L286.2,277.9 L287.0,280.9 L287.8,283.9 L288.6,286.9 M292.9,172.9 L293.5,175.9 L293.8,178.9 L293.9,181.9 L293.8,184.9 L293.4,187.9 L292.7,190.9 L292.0,193.9 L291.1,196.9 L290.3,199.9 L289.7,202.9 L289.2,205.9 L289.0,208.9 L289.0,211.9 L289.3,214.9 L289.8,217.9 L290.5,220.9 L291.4,223.9 L292.2,226.9 L292.9,229.9 L293.5,232.9 L293.8,235.9 L293.9,238.9 L293.8,241.9 L293.4,244.9 L292.7,247.9 L292.0,250.9 L291.1,253.9 L290.3,256.9 L289.7,259.9 L289.2,262.9 L289.0,265.9 L289.0,268.9 L289.3,271.9 L289.8,274.9 L290.5,277.9 L291.4,280.9 L292.2,283.9 L292.9,286.9 M297.2,172.9 L297.8,175.9 L298.2,178.9 L298.3,181.9 L298.1,184.9 L297.7,187.9 L297.1,190.9 L296.3,193.9 L295.5,196.9 L294.7,199.9 L294.0,202.9 L293.5,205.9 L293.3,208.9 L293.3,211.9 L293.6,214.9 L294.2,217.9 L294.9,220.9 L295.7,223.9 L296.5,226.9 L297.2,229.9 L297.8,232.9 L298.2,235.9 L298.3,238.9 L298.1,241.9 L297.7,244.9 L297.1,247.9 L296.3,250.9 L295.5,253.9 L294.7,256.9 L294.0,259.9 L293.5,262.9 L293.3,265.9 L293.3,268.9 L293.6,271.9 L294.2,274.9 L294.9,277.9 L295.7,280.9 L296.5,283.9 L297.2,286.9 M301.6,172.9 L302.1,175.9 L302.5,178.9 L302.6,181.9 L302.4,184.9 L302.0,187.9 L301.4,190.9 L300.6,193.9 L299.8,196.9 L299.0,199.9 L298.3,202.9 L297.9,205.9 L297.6,208.9 L297.7,211.9 L298.0,214.9 L298.5,217.9 L299.2,220.9 L300.0,223.9 L300.8,226.9 L301.6,229.9 L302.1,232.9 L302.5,235.9 L302.6,238.9 L302.4,241.9 L302.0,244.9 L301.4,247.9 L300.6,250.9 L299.8,253.9 L299.0,256.9 L298.3,259.9 L297.9,262.9 L297.6,265.9 L297.7,268.9 L298.0,271.9 L298.5,274.9 L299.2,277.9 L300.0,280.9 L300.8,283.9 L301.6,286.9 M305.9,172.9 L306.5,175.9 L306.8,178.9 L306.9,181.9 L306.8,184.9 L306.3,187.9 L305.7,190.9 L304.9,193.9 L304.1,196.9 L303.3,199.9 L302.7,202.9 L302.2,205.9 L302.0,208.9 L302.0,211.9 L302.3,214.9 L302.8,217.9 L303.5,220.9 L304.3,223.9 L305.2,226.9 L305.9,229.9 L306.5,232.9 L306.8,235.9 L306.9,238.9 L306.8,241.9 L306.3,244.9 L305.7,247.9 L304.9,250.9 L304.1,253.9 L303.3,256.9 L302.7,259.9 L302.2,262.9 L302.0,265.9 L302.0,268.9 L302.3,271.9 L302.8,274.9 L303.5,277.9 L304.3,280.9 L305.2,283.9 L305.9,286.9" stroke="#4f8cd2" stroke-width="1.1"/>
  </g>
  <circle cx="244" cy="230.7" r="56.8" fill="none" stroke="#ec9058" stroke-width="1.1"/>
  <!-- end c2 -->



  <!-- circle 1 content -->
  <defs><radialGradient id="og" cx="0.42" cy="0.38" r="0.6"><stop offset="0" stop-color="#fff4e0"/><stop offset="0.35" stop-color="#f8b070"/><stop offset="1" stop-color="#ee7a14"/></radialGradient></defs>
  <clipPath id="cl1"><circle cx="117.4" cy="232.2" r="56.7"/></clipPath>
  <g clip-path="url(#cl1)">
  <g transform="translate(57,172) scale(0.190476)" fill="none" stroke-linecap="round" stroke-linejoin="round">
    <path d="M60,170 C75,158 117,116 150,100 C183,84 222,82 260,75 C298,68 345,58 380,60 C415,62 455,85 470,90 M95,140 C112,132 161,106 200,90 C239,74 292,50 330,45 C368,40 413,58 430,60 M150,180 C152,193 162,235 160,260 C158,285 135,315 140,330 C145,345 170,350 190,350 C210,350 237,338 260,330 C283,322 307,305 330,300 C353,295 377,303 400,300 C423,297 447,280 470,280 C493,280 520,298 540,300 C560,302 582,292 590,290 M60,420 C70,428 102,467 120,470 C138,473 148,443 170,440 C192,437 223,445 250,450 C277,455 305,458 330,470 C355,482 375,510 400,520 C425,530 453,538 480,530 C507,522 542,490 560,470 C578,450 585,420 590,410 M230,130 C235,142 248,178 260,200 C272,222 290,240 300,260 C310,280 320,298 320,320 C320,342 312,370 300,390 C288,410 258,432 250,440 M540,150 C541,162 548,197 545,220 C542,243 526,270 525,290 C524,310 541,322 540,340 C539,358 530,383 520,400 C510,417 487,433 480,440 M130,520 C142,515 177,492 200,490 C223,488 248,495 270,510 C292,525 308,568 330,580 C352,592 380,589 400,585 C420,581 442,560 450,555 M40,280 C47,287 65,312 80,320 C95,328 113,333 130,330 C147,327 162,303 180,300 C198,297 230,308 240,310 M400,140 C405,150 418,183 430,200 C442,217 467,223 470,240 C473,257 462,283 450,300 C438,317 408,333 400,340 M100,200 C107,203 125,220 140,220 C155,220 180,210 190,200 C200,190 198,167 200,160 M90,480 C93,470 98,433 110,420 C122,407 143,400 160,400 C177,400 193,407 210,420 C227,433 252,470 260,480 M500,180 C503,188 520,212 520,230 C520,248 503,280 500,290 M300,60 C302,70 312,100 310,120 C308,140 288,160 290,180 C292,200 305,227 320,240 C335,253 370,257 380,260 M70,340 C78,333 102,310 120,300 C138,290 160,287 180,280 C200,273 230,263 240,260 M340,340 C350,343 378,360 400,360 C422,360 447,340 470,340 C493,340 528,357 540,360 M200,540 C207,533 223,510 240,500 C257,490 282,490 300,480 C318,470 337,457 350,440 C363,423 375,390 380,380 M470,130 C475,135 488,160 500,160 C512,160 530,128 540,130 C550,132 557,163 560,170 M120,250 C125,242 137,205 150,200 C163,195 183,227 200,220 C217,213 233,172 250,160 C267,148 292,152 300,150 M80,230 C87,222 103,193 120,180 C137,167 160,155 180,150 C200,145 230,150 240,150 M420,440 C428,437 453,420 470,420 C487,420 505,440 520,440 C535,440 553,423 560,420" stroke="#ecb0b0" stroke-width="5.5"/>
    <path d="M250,60 C248,70 248,100 240,120 C232,140 215,162 200,180 C185,198 167,210 150,230 C133,250 115,277 100,300 C85,323 65,353 60,370 C55,387 58,400 70,400 C82,400 112,382 130,370 C148,358 172,337 180,330 M270,40 C283,39 325,32 350,35 C375,38 405,48 420,60 C435,72 442,92 440,110 C438,128 423,155 410,170 C397,185 377,193 360,200 C343,207 320,202 310,210 C300,218 295,240 300,250 C305,260 333,267 340,270 M460,170 C467,175 483,197 500,200 C517,203 548,185 560,190 C572,195 578,217 575,230 C572,243 552,267 540,270 C528,273 507,253 500,250 M260,420 C263,430 268,467 280,480 C292,493 310,502 330,500 C350,498 380,483 400,470 C420,457 438,437 450,420 C462,403 467,378 470,370 M150,280 C153,283 162,303 170,300 C178,297 190,260 200,260 C210,260 225,293 230,300 M300,540 C308,542 330,558 350,555 C370,552 400,532 420,520 C440,508 455,493 470,480 C485,467 503,447 510,440 M520,120 C527,127 548,138 560,160 C572,182 585,235 590,250" stroke="#b4d0ee" stroke-width="5"/>
    <path d="M75,205 C78,202 86,199 95,190 C104,181 121,161 130,150 C139,139 141,129 150,125 C159,121 180,118 185,125 C190,132 175,158 180,165 C185,172 210,172 215,165 C220,158 205,133 210,125 C215,117 234,116 245,115 C256,114 266,118 275,120 C284,122 296,124 300,125 M330,55 C340,58 372,62 390,70 C408,78 423,96 440,100 C457,104 478,90 490,95 C502,100 518,119 515,130 C512,141 481,162 470,160 C459,158 458,126 450,120 C442,114 428,117 425,125 C422,133 435,163 430,170 C425,177 409,165 395,165 C381,165 355,164 345,170 C335,176 331,190 335,200 C339,210 358,230 370,230 C382,230 398,208 410,200 C422,192 435,183 440,180 M345,55 C343,62 332,88 335,100 C338,112 350,128 360,130 C370,132 390,118 395,110 C400,102 398,90 390,85 C382,80 357,81 350,80 M150,290 C152,295 152,318 160,320 C168,322 195,309 200,300 C205,291 202,272 190,265 C178,258 150,256 130,260 C110,264 85,282 70,290 C55,298 43,298 40,310 C37,322 40,347 50,360 C60,373 75,384 100,390 C125,396 173,397 200,395 C227,393 245,389 260,380 C275,371 280,345 290,340 C300,335 317,342 320,350 C323,358 312,383 310,390 M265,400 C266,403 274,408 270,420 C266,432 255,457 240,470 C225,483 199,493 180,500 C161,507 130,502 125,510 C120,518 132,538 150,550 C168,562 207,571 230,580 C253,589 280,601 290,605 M260,560 C267,555 288,533 300,530 C312,527 318,535 330,540 C342,545 363,550 370,560 C377,570 358,595 370,600 C382,605 427,597 440,590 C453,583 448,565 450,560 M530,350 C537,354 559,368 570,375 C581,382 597,382 595,395 C593,408 579,433 560,450 C541,467 495,495 480,495 C465,495 478,464 470,450 C462,436 443,418 430,410 C417,402 402,397 390,400 C378,403 364,417 360,430 C356,443 361,465 365,480 C369,495 376,510 385,520 C394,530 414,537 420,540 M450,250 C455,252 468,252 480,265 C492,278 509,312 520,330 C531,348 541,363 545,370" stroke="#86a468" stroke-width="6"/>
    <path d="M258,32 C258,40 257,67 255,80 C253,93 256,98 245,110 C234,122 201,140 190,150 C179,160 179,159 180,170 C181,181 189,198 195,215 C201,232 214,258 218,270 C222,282 218,284 218,287 M218,287 C222,279 231,255 240,240 C249,225 264,199 270,195 C276,191 278,201 278,215 C278,229 275,268 270,280 C265,292 254,295 250,290 C246,285 242,259 245,250 C248,241 256,238 270,235 C284,232 309,230 330,235 C351,240 384,260 395,265 M40,240 C46,237 60,221 75,222 C90,223 126,238 130,245 C134,252 114,255 102,262 C90,269 68,286 60,285 C52,284 48,259 55,255 C62,251 94,261 102,262 M40,240 C40,255 35,305 40,330 C45,355 58,382 70,390 C82,398 99,388 110,380 C121,372 138,353 135,345 C132,337 106,330 95,330 C84,330 73,332 70,345 C67,358 69,388 75,405 C81,422 97,446 105,445 C113,444 118,401 125,400 C132,399 142,427 150,440 C158,453 159,475 170,480 C181,485 204,466 215,470 C226,474 239,497 235,505 C231,513 196,512 190,520 C184,528 188,544 200,550 C212,556 245,550 260,555 C275,560 278,579 290,580 C302,581 328,570 330,560 C332,550 305,527 300,520 M262,30 C273,34 307,45 330,55 C353,65 389,78 400,90 C411,102 402,120 395,130 C388,140 368,150 355,150 C342,150 328,128 320,130 C312,132 307,148 310,160 C313,172 328,192 340,205 C352,218 367,233 380,235 C393,237 409,225 420,215 C431,205 442,189 445,175 C448,161 436,144 440,130 C444,116 457,90 470,90 C483,90 518,115 520,130 C522,145 492,170 480,180 C468,190 455,188 450,190 M575,215 C576,229 582,292 580,300 C578,308 570,268 560,260 C550,252 532,257 520,250 C508,243 501,232 490,220 C479,208 461,187 455,180 M585,395 C581,392 571,389 560,380 C549,371 532,352 520,340 C508,328 505,313 490,307 C475,301 446,301 430,305 C414,309 402,319 395,330 C388,341 381,358 385,370 C389,382 406,398 420,400 C434,402 457,388 470,380 C483,372 495,355 500,350 M440,330 C437,335 428,357 420,360 C412,363 393,357 390,350 C387,343 398,325 400,320 M245,340 C252,342 278,352 290,350 C302,348 310,322 315,325 C320,328 322,354 320,370 C318,386 308,415 300,420 C292,425 278,410 270,400 C262,390 258,367 255,360 M320,370 C325,375 337,397 350,400 C363,403 385,387 400,390 C415,393 430,407 440,420 C450,433 458,450 460,470 C462,490 460,524 455,540 C450,556 441,563 430,565 C419,567 405,558 390,550 C375,542 355,533 340,520 C325,507 305,485 300,470 C295,455 300,440 310,430 C320,420 348,408 360,410 C372,412 382,427 385,440 C388,453 386,480 380,490 C374,500 355,498 350,500 M102,262 C108,268 130,287 140,300 C150,313 147,342 160,340 C173,338 206,289 218,287 C230,285 238,320 235,330 C232,340 206,347 200,350 M455,180 C461,175 479,151 490,150 C501,149 512,162 520,175 C528,188 531,223 540,230 C549,237 569,218 575,215 M130,245 C135,249 150,269 160,270 C170,271 180,247 190,250 C200,253 213,281 218,287 M300,520 C305,513 318,480 330,480 C342,480 358,507 370,520 C382,533 388,556 400,560 C412,564 433,548 440,545 M460,100 C455,107 431,127 430,140 C429,153 451,173 455,180 M180,170 C186,164 203,144 215,135 C227,126 244,118 250,115" stroke="#ca4a52" stroke-width="5.8"/>
    <g transform="translate(278,378) rotate(55)">
      <rect x="-36" y="-9" width="72" height="18" rx="8" fill="#e4d0ea" stroke="none"/>
      <circle cx="-30" cy="4" r="4" fill="#e05890" stroke="none"/>
      <circle cx="-20" cy="-4" r="4" fill="#f0cc20" stroke="none"/>
      <circle cx="-10" cy="4" r="4" fill="#e05890" stroke="none"/>
      <circle cx="0" cy="-4" r="4" fill="#f0cc20" stroke="none"/>
      <circle cx="10" cy="4" r="4" fill="#e05890" stroke="none"/>
      <circle cx="20" cy="-4" r="4" fill="#f0cc20" stroke="none"/>
      <circle cx="30" cy="4" r="4" fill="#e05890" stroke="none"/>
      <path d="M-34,0 L34,0" stroke="#b080c8" stroke-width="3"/>
    </g>
    <g transform="translate(385,385) rotate(55)">
      <rect x="-36" y="-9" width="72" height="18" rx="8" fill="#e4d0ea" stroke="none"/>
      <circle cx="-30" cy="4" r="4" fill="#e05890" stroke="none"/>
      <circle cx="-20" cy="-4" r="4" fill="#f0cc20" stroke="none"/>
      <circle cx="-10" cy="4" r="4" fill="#e05890" stroke="none"/>
      <circle cx="0" cy="-4" r="4" fill="#f0cc20" stroke="none"/>
      <circle cx="10" cy="4" r="4" fill="#e05890" stroke="none"/>
      <circle cx="20" cy="-4" r="4" fill="#f0cc20" stroke="none"/>
      <circle cx="30" cy="4" r="4" fill="#e05890" stroke="none"/>
      <path d="M-34,0 L34,0" stroke="#b080c8" stroke-width="3"/>
    </g>
    <path d="M352,280 L392,270" stroke="#b848d8" stroke-width="7"/>
    <circle cx="352" cy="280" r="5.5" fill="#d888f4" stroke="none"/>
    <circle cx="392" cy="270" r="5.5" fill="#d888f4" stroke="none"/>
    <path d="M218,465 L236,505" stroke="#b848d8" stroke-width="7"/>
    <circle cx="218" cy="465" r="5.5" fill="#d888f4" stroke="none"/>
    <circle cx="236" cy="505" r="5.5" fill="#d888f4" stroke="none"/>
    <ellipse cx="97" cy="190" rx="10" ry="17" fill="#f2f7ec" stroke="#5c8c3c" stroke-width="6"/>
    <ellipse cx="275" cy="122" rx="10" ry="17" fill="#f2f7ec" stroke="#5c8c3c" stroke-width="6"/>
    <ellipse cx="567" cy="372" rx="10" ry="17" fill="#f2f7ec" stroke="#5c8c3c" stroke-width="6"/>
    <ellipse cx="307" cy="530" rx="10" ry="17" fill="#f2f7ec" stroke="#5c8c3c" stroke-width="6"/>
    <path d="M212,58 L258,32" stroke="#2a4a90" stroke-width="9"/>
    <path d="M212,58 L258,32" stroke="#e8eefc" stroke-width="3"/>
    <circle cx="212" cy="58" r="10" fill="#16346e" stroke="none"/>
    <circle cx="258" cy="32" r="10" fill="#16346e" stroke="none"/>
    <path d="M422,467 L458,505" stroke="#2a4a90" stroke-width="9"/>
    <path d="M422,467 L458,505" stroke="#e8eefc" stroke-width="3"/>
    <circle cx="422" cy="467" r="10" fill="#16346e" stroke="none"/>
    <circle cx="458" cy="505" r="10" fill="#16346e" stroke="none"/>
    <circle cx="413" cy="147" r="7.5" fill="#16346e" stroke="none"/>
    <circle cx="429" cy="147" r="7.5" fill="#16346e" stroke="none"/>
    <circle cx="504" cy="223" r="7.5" fill="#16346e" stroke="none"/>
    <circle cx="520" cy="223" r="7.5" fill="#16346e" stroke="none"/>
    <circle cx="156" cy="365" r="7.5" fill="#16346e" stroke="none"/>
    <circle cx="172" cy="365" r="7.5" fill="#16346e" stroke="none"/>
    <circle cx="102" cy="262" r="19" fill="url(#og)" stroke="#ee7a14" stroke-width="2"/>
    <circle cx="218" cy="287" r="19" fill="url(#og)" stroke="#ee7a14" stroke-width="2"/>
    <circle cx="490" cy="307" r="19" fill="url(#og)" stroke="#ee7a14" stroke-width="2"/>
  </g>
  </g>
  <circle cx="117.4" cy="232.2" r="57.3" fill="none" stroke="#f0a070" stroke-width="1.0"/>
  <!-- end c1 -->
</svg>
</body>
</html>
